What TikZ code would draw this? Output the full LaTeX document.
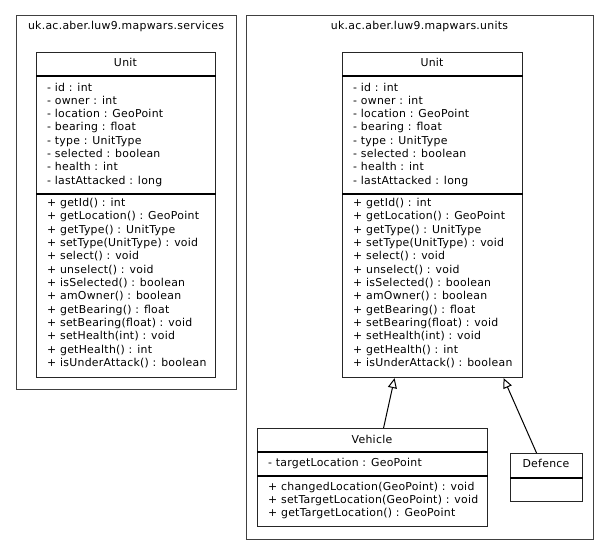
\documentclass[tikz,border=0pt]{standalone}
\usepackage{fontspec}
\setmainfont{DejaVu Sans}[LetterSpace=2.5]
\usetikzlibrary{arrows.meta}
\begin{document}
\begin{tikzpicture}[x=1pt,y=-1pt,
  every node/.style={font=\fontsize{10.9}{13}\selectfont, inner sep=0pt, text=black},
  pkg/.style={draw=black!75, line width=1.3pt, minimum width=#1, anchor=north west},
  compart/.style={draw=black!85, line width=1.1pt, fill=white, anchor=north west},
  sepline/.style={line width=1.7pt, black},
  member/.style={anchor=base west},
  title/.style={anchor=base},
  inh/.style={draw=black, line width=1pt, -{Triangle[open, length=10pt, width=9pt, fill=white]}}
]
\useasboundingbox (0,0) rectangle (609,555);

% packages
\node[pkg=220pt, minimum height=374pt] (ps) at (16,15) {};
\node[title] (psl) at (126,29.5) {uk.ac.aber.luw9.mapwars.services};
\node[pkg=347pt, minimum height=524pt] (pu) at (246,15) {};
\node[title] (pul) at (419.5,29.5) {uk.ac.aber.luw9.mapwars.units};

% class Unit (services)
\node[compart, minimum width=179pt, minimum height=23pt] (sh) at (36,52) {};
\node[compart, minimum width=179pt, minimum height=118pt] (sa) at (36,75) {};
\node[compart, minimum width=179pt, minimum height=184pt] (sm) at (36,193) {};
\draw[sepline] (sh.south west) -- (sh.south east);
\draw[sepline] (sa.south west) -- (sa.south east);
\node[title] (sht) at (125.5,66.5) {Unit};

% class Unit (units)
\node[compart, minimum width=180pt, minimum height=23pt] (uh) at (342,52) {};
\node[compart, minimum width=180pt, minimum height=118pt] (ua) at (342,75) {};
\node[compart, minimum width=180pt, minimum height=184pt] (um) at (342,193) {};
\draw[sepline] (uh.south west) -- (uh.south east);
\draw[sepline] (ua.south west) -- (ua.south east);
\node[title] (uht) at (432,66.5) {Unit};

% members of both Unit classes
\foreach \x/\p in {47/s, 353/u} {
  \foreach \t [count=\i] in {- id : int, - owner : int, - location : GeoPoint,
      - bearing : float, - type : UnitType, - selected : boolean,
      - health : int, - lastAttacked : long}
    \node[member] (\p a\i) at (\x, {91+13.33*(\i-1)}) {\t};
  \foreach \t [count=\i] in {+ getId() : int, + getLocation() : GeoPoint,
      + getType() : UnitType, + setType(UnitType) : void, + select() : void,
      + unselect() : void, + isSelected() : boolean, + amOwner() : boolean,
      + getBearing() : float, + setBearing(float) : void,
      + setHealth(int) : void, + getHealth() : int,
      + isUnderAttack() : boolean}
    \node[member] (\p m\i) at (\x, {206.5+13.33*(\i-1)}) {\t};
}

% class Vehicle
\node[compart, minimum width=230pt, minimum height=23pt] (vh) at (257,428) {};
\node[compart, minimum width=230pt, minimum height=24pt] (va) at (257,451) {};
\node[compart, minimum width=230pt, minimum height=51pt] (vm) at (257,475) {};
\draw[sepline] (vh.south west) -- (vh.south east);
\draw[sepline] (va.south west) -- (va.south east);
\node[title] (vht) at (372,443) {Vehicle};
\node[member] (va1) at (268,466.5) {- targetLocation : GeoPoint};
\foreach \t [count=\i] in {+ changedLocation(GeoPoint) : void,
    + setTargetLocation(GeoPoint) : void, + getTargetLocation() : GeoPoint}
  \node[member] (vm\i) at (268, {490+13.33*(\i-1)}) {\t};

% class Defence
\node[compart, minimum width=72pt, minimum height=24pt] (dh) at (510,453) {};
\node[compart, minimum width=72pt, minimum height=24pt] (da) at (510,477) {};
\draw[sepline] (dh.south west) -- (dh.south east);
\node[title] (dht) at (546,467.5) {Defence};

% generalisations
\draw[inh] ([xshift=11pt]vh.north) -- ([xshift=-38pt]um.south);
\draw[inh] ([xshift=-10pt]dh.north) -- ([xshift=71pt]um.south);
\end{tikzpicture}
\end{document}
